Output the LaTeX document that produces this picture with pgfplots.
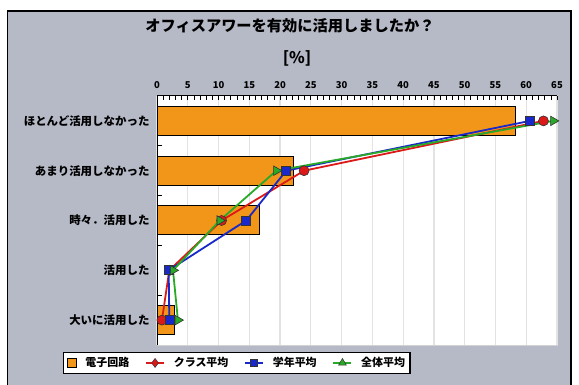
\documentclass[border=0pt]{standalone}
\usepackage{pgfplots}
\pgfplotsset{compat=1.18}
\usepackage{fontspec}
\setmainfont{Noto Sans CJK JP}
\definecolor{bggray}{RGB}{182,186,199}
\definecolor{barorange}{RGB}{242,150,25}
\definecolor{lred}{RGB}{220,25,25}
\definecolor{lblue}{RGB}{25,40,200}
\definecolor{lgreen}{RGB}{40,170,40}
\begin{document}
\begin{tikzpicture}
\useasboundingbox (0,0) rectangle (579bp,385bp);
\fill[white] (0,0) rectangle (579bp,385bp);
\filldraw[fill=bggray, draw=black, line width=1.5bp] (7.5bp,-5bp) rectangle (571bp,374bp);
\node[font=\bfseries\fontsize{15.3}{17}\selectfont] at (290bp,359bp) {オフィスアワーを有効に活用しましたか？};
\node[font=\bfseries\fontsize{16}{17}\selectfont] at (297bp,327bp) {[\%]};
\begin{axis}[
  at={(157bp,40bp)}, anchor=south west,
  scale only axis, width=400bp, height=249bp,
  xmin=0, xmax=65, ymin=-0.5, ymax=4.5,
  axis x line*=top, axis y line*=left,
  axis line style={black, line width=1bp},
  axis background/.style={fill=white, draw=gray!35, line width=1bp},
  xtick={0,5,...,65}, minor x tick num=4,
  tick align=inside,
  major tick length=4.5bp, minor tick length=4bp,
  tick style={black, line width=0.7bp},
  xmajorgrids, grid style={gray!22, line width=1.3bp},
  xticklabel style={font=\bfseries\fontsize{9.5}{10}\selectfont, yshift=4bp},
  /pgf/number format/assume math mode=true,
  ytick={0.5,1.5,2.5,3.5}, yticklabels={,,,},
  extra y ticks={0,1,2,3,4},
  extra y tick labels={大いに活用した,活用した,時々．活用した,あまり活用しなかった,ほとんど活用しなかった},
  extra y tick style={major tick length=0pt, yticklabel style={font=\bfseries\fontsize{11.5}{12}\selectfont, xshift=-4bp}},
  legend style={at={(-0.235,-0.072)}, anchor=west, draw=black, line width=1.2bp, fill=white,
    font=\bfseries\fontsize{11}{12}\selectfont, inner sep=3bp,
    /tikz/every even column/.append style={column sep=14bp},
    /tikz/every odd column/.append style={column sep=7bp}},
  legend columns=-1,
]
\addplot[xbar, bar width=29bp, fill=barorange, draw=black, line width=1bp,
  legend image code/.code={\draw[fill=barorange, draw=black, line width=0.9bp] (0bp,-4.5bp) rectangle (9bp,4.5bp);}]
  coordinates {(58.3,4) (22.2,3) (16.7,2) (2.8,0)};
\addlegendentry{電子回路}
\addplot[color=lred, line width=1.8bp, mark=*, mark size=5bp, mark options={fill=lred, draw=black!80, line width=0.6bp},
  legend image code/.code={\draw[color=lred, line width=1.5bp, mark=diamond*, mark size=4.5bp, mark options={fill=lred, draw=black!80, line width=0.5bp}, mark repeat=2, mark phase=2] plot coordinates {(0bp,0bp) (9bp,0bp) (18bp,0bp)};}]
  coordinates {(62.8,4) (23.9,3) (10.5,2) (2.0,1) (0.8,0)};
\addlegendentry{クラス平均}
\addplot[color=lblue, line width=1.8bp, mark=square*, mark size=4.5bp, mark options={fill=lblue, draw=black!80, line width=0.6bp},
  legend image code/.code={\draw[color=lblue, line width=1.5bp, mark=square*, mark size=3.5bp, mark options={fill=lblue, draw=black!80, line width=0.5bp}, mark repeat=2, mark phase=2] plot coordinates {(0bp,0bp) (9bp,0bp) (18bp,0bp)};}]
  coordinates {(60.6,4) (21.0,3) (14.5,2) (1.9,1) (2.0,0)};
\addlegendentry{学年平均}
\addplot[color=lgreen, line width=1.8bp, mark=triangle*, mark size=5.5bp, mark options={fill=lgreen, draw=black!80, line width=0.6bp, rotate=-90},
  legend image code/.code={\draw[color=lgreen, line width=1.5bp, mark=triangle*, mark size=4.5bp, mark options={fill=lgreen, draw=black!80, line width=0.5bp}, mark repeat=2, mark phase=2] plot coordinates {(0bp,0bp) (9bp,0bp) (18bp,0bp)};}]
  coordinates {(64.4,4) (19.4,3) (10.2,2) (2.6,1) (3.4,0)};
\addlegendentry{全体平均}
\end{axis}
\end{tikzpicture}
\end{document}
